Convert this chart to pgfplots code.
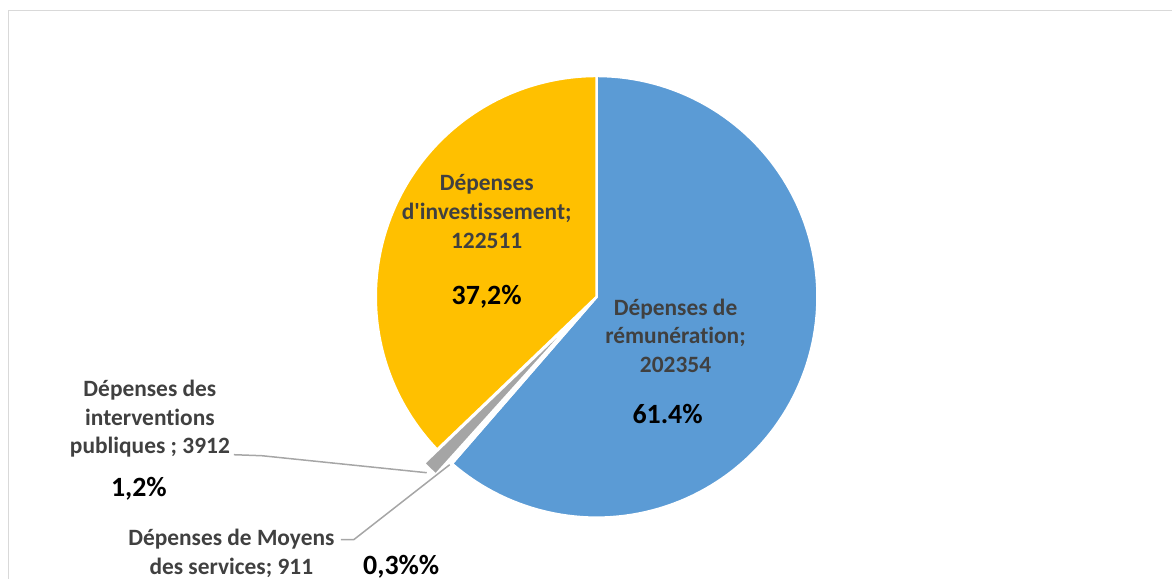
\documentclass[border=0pt]{standalone}
\usepackage{pgfplots}
\pgfplotsset{compat=1.18}
\usepackage{fontspec}
\setmainfont{Carlito}[Ligatures={NoCommon}]
\definecolor{cBlue}{HTML}{5B9BD5}
\definecolor{cGold}{HTML}{FFC000}
\definecolor{cGray}{HTML}{A5A5A5}
\definecolor{cTxt}{HTML}{404040}
\definecolor{cLead}{HTML}{A6A6A6}
\definecolor{cFrame}{HTML}{D9D9D9}
% data
\def\vA{202354}% Dépenses de rémunération
\def\vB{911}% Dépenses de Moyens des services
\def\vC{3912}% Dépenses des interventions publiques
\def\vD{122511}% Dépenses d'investissement
\edef\tot{\fpeval{\vA+\vB+\vC+\vD}}
\edef\aA{\fpeval{round(90-360*\vA/\tot,4)}}
\edef\aB{\fpeval{round(\aA-360*\vB/\tot,4)}}
\edef\aC{\fpeval{round(\aB-360*\vC/\tot,4)}}
\edef\aD{\fpeval{round(\aC-360*\vD/\tot,4)}}
\def\cx{597}\def\cy{297}\def\R{221}
\edef\gm{\fpeval{(\aB+\aC)/2}}
\edef\gx{\fpeval{round(\cx+19*cosd(\gm),3)}}
\edef\gy{\fpeval{round(\cy-19*sind(\gm),3)}}
\tikzset{
  lab/.style={align=center,text=cTxt,font=\fontsize{23.5}{29}\selectfont\bfseries},
  pct/.style={text=black,font=\fontsize{28}{34}\selectfont\bfseries}}
\begin{document}
\begin{tikzpicture}
\begin{axis}[x=1bp,y=1bp,xmin=0,xmax=1173,ymin=0,ymax=579,y dir=reverse,
  hide axis,clip=false,axis line style={draw=none}]
\path (0,0) rectangle (1173,579);
% frame
\draw[cFrame,line width=1.5bp] (8.5,579) -- (8.5,10.5) -- (1173,10.5);
% slices
\addplot[draw=white,line width=2.5bp,fill=cBlue,domain=\aA:90,samples=120,variable=\t]
  ({\cx+\R*cos(\t)},{\cy-\R*sin(\t)}) -- (\cx,\cy) -- cycle;
\addplot[draw=white,line width=2.5bp,fill=white,domain=\aB:\aA,samples=5,variable=\t]
  ({\cx+\R*cos(\t)},{\cy-\R*sin(\t)}) -- (\cx,\cy) -- cycle;
\addplot[draw=white,line width=2.5bp,fill=cGray,domain=\aC:\aB,samples=8,variable=\t]
  ({\gx+\R*cos(\t)},{\gy-\R*sin(\t)}) -- (\gx,\gy) -- cycle;
\addplot[draw=white,line width=2.5bp,fill=cGold,domain=\aD:\aC,samples=100,variable=\t]
  ({\cx+\R*cos(\t)},{\cy-\R*sin(\t)}) -- (\cx,\cy) -- cycle;
% leader lines
\draw[cLead,line width=1.5bp] (234,455) -- (262,456) -- (427,473);
\draw[cLead,line width=1.5bp] (341,540) -- (354,540) -- (450,465);
% labels
\node[lab] at (487,212) {Dépenses\\d\textquotesingle investissement;\\122511};
\node[pct] at (487,297) {37,2\%};
\node[lab] at (676,336) {Dépenses de\\rémunération;\\202354};
\node[pct] at (668,414) {61.4\%};
\node[lab] at (150,419) {Dépenses des\\interventions\\publiques ; 3912};
\node[pct] at (139,489) {1,2\%};
\node[lab] at (231.5,553.5) {Dépenses de Moyens\\des services; 911};
\node[pct] at (401.5,567) {0,3\%\%};
\end{axis}
\end{tikzpicture}
\end{document}
